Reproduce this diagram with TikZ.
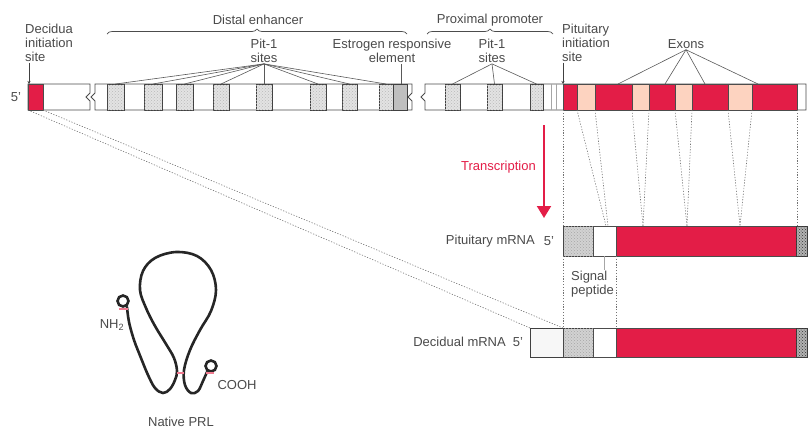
\documentclass[tikz,border=0pt]{standalone}
\usepackage{fontspec}
\setmainfont{Liberation Sans}
\usepackage{tikz}
\usetikzlibrary{arrows.meta, positioning, decorations.pathreplacing, patterns}

\definecolor{prlred}{HTML}{E31D47}
\definecolor{exonpeach}{HTML}{FDD3C0}
\definecolor{txtgray}{HTML}{4A4A4A}
\definecolor{bondpink}{HTML}{F07A90}

\begin{document}
\begin{tikzpicture}[x=1pt, y=-1pt,
    every node/.style={font=\fontsize{13}{13.8}\selectfont, text=txtgray, inner sep=1pt},
    lbl/.style={align=center},
    lbll/.style={align=left, anchor=north west},
    seg/.style={draw=black!70, line width=0.8pt, fill=white},
    pitband/.style={draw=black!75, line width=1pt, fill=gray!22, postaction={pattern=crosshatch dots, pattern color=gray!55}},
    erband/.style={draw=black!75, line width=1pt, fill=gray!50},
    exon/.style={draw=black!70, line width=0.8pt, fill=prlred},
    intron/.style={draw=black!70, line width=0.8pt, fill=exonpeach},
    utr/.style={draw=black!75, line width=0.8pt, fill=gray!35, postaction={pattern=crosshatch dots, pattern color=gray!70}},
    tail/.style={draw=black!75, line width=0.8pt, fill=gray!60, postaction={pattern=crosshatch dots, pattern color=black!80}},
    fanline/.style={black!65, line width=0.6pt},
    mapline/.style={black!55, line width=0.6pt, dash pattern=on 1.2pt off 1.6pt},
    initarrow/.style={-{Stealth[length=3pt, width=3pt]}, black!75, line width=0.6pt},
    txarrow/.style={-{Triangle[length=12pt, width=14pt]}, prlred, line width=2pt},
    regionbrace/.style={decorate, decoration={brace, amplitude=5pt}, black!70, line width=0.7pt},
    chain/.style={black!85, line width=2.6pt, line cap=round},
    ssbond/.style={bondpink, line width=1.2pt}
]
    \useasboundingbox (0,0) rectangle (808,429);

    % Gene: 5' piece with the decidual start
    \draw[seg] (28,84) -- (90,84) -- (90,93) -- (86,97) -- (90,101) -- (90,110) -- (28,110) -- cycle;
    \draw[exon] (28,84) rectangle (43,110);
    \node (five) at (16,97) {5'};

    % Gene: distal enhancer piece
    \draw[seg] (95,84) -- (412,84) -- (412,93) -- (408,97) -- (412,101) -- (412,110)
        -- (95,110) -- (95,101) -- (91,97) -- (95,93) -- cycle;
    \foreach \a/\b [count=\i] in {107/124, 144/162, 176/193, 213/229, 256/272, 310/326, 342/357, 379/393} {
        \draw[pitband] (\a,84) rectangle (\b,110);
        \coordinate (dp\i) at ({(\a+\b)/2},84);
    }
    \draw[erband] (393,84) rectangle (407,110);
    \coordinate (er) at (401,84);

    % Gene: proximal promoter and exons
    \draw[seg] (425,84) -- (806,84) -- (806,110) -- (425,110) -- (425,101) -- (421,97) -- (425,93) -- cycle;
    \foreach \a/\b [count=\i] in {445/460, 487/502, 530/543} {
        \draw[pitband] (\a,84) rectangle (\b,110);
        \coordinate (pp\i) at ({(\a+\b)/2},84);
    }
    \draw[gray!70, line width=0.7pt] (551,84) -- (551,110) (556,84) -- (556,110);
    \foreach \a/\b in {577/595, 632/649, 675/692, 728/752}
        \draw[intron] (\a,84) rectangle (\b,110);
    \foreach \a/\b in {563/577, 595/632, 649/675, 692/728, 752/797}
        \draw[exon] (\a,84) rectangle (\b,110);
    \foreach \x [count=\i] in {618, 665, 705, 758}
        \coordinate (ex\i) at (\x,84);
    \coordinate (dstart) at (29,84);
    \coordinate (pstart) at (563,84);

    % Labels above the gene
    \node[lbl] (distal) at (258,20) {Distal enhancer};
    \draw[regionbrace] (107,34) -- (407,34);
    \node[lbl] (proximal) at (490,20) {Proximal promoter};
    \draw[regionbrace] (427,34) -- (553,34);

    \node[lbl] (dpit) at (264,51) {Pit-1\\sites};
    \foreach \i in {1,...,8}
        \draw[fanline] (dpit.south) -- (dp\i);
    \node[lbl] (estro) at (392,51) {Estrogen responsive\\element};
    \draw[fanline] (estro.south -| er) -- (er);
    \node[lbl] (ppit) at (492,51) {Pit-1\\sites};
    \foreach \i in {1,...,3}
        \draw[fanline] (ppit.south) -- (pp\i);
    \node[lbl] (exons) at (686,44) {Exons};
    \foreach \i in {1,...,4}
        \draw[fanline] (exons.south) -- (ex\i);

    \node[lbll] (decsite) at (24,23) {Decidua\\initiation\\site};
    \draw[initarrow] (dstart |- decsite.south) -- (dstart);
    \node[lbll] (pitsite) at (561,23) {Pituitary\\initiation\\site};
    \draw[initarrow] (pstart |- pitsite.south) -- (pstart);

    % Transcription
    \coordinate (tx1) at (544,125);
    \coordinate (tx2) at (544,218);
    \draw[txarrow] (tx1) -- (tx2);
    \node[text=prlred, anchor=east] (txlbl) at (537,167) {Transcription};

    % Pituitary mRNA
    \draw[utr] (563,226) rectangle (593,256);
    \draw[seg] (593,226) rectangle (616,256);
    \draw[exon] (616,226) rectangle (796,256);
    \draw[tail] (796,226) rectangle (807,256);
    \node[anchor=east] (pitlbl) at (536,241) {Pituitary mRNA};
    \node (pit5) at (549,241) {5'};

    % Decidual mRNA
    \draw[draw=black!75, line width=0.8pt, fill=gray!6] (530,328) rectangle (563,357);
    \draw[utr] (563,328) rectangle (593,357);
    \draw[seg] (593,328) rectangle (616,357);
    \draw[exon] (616,328) rectangle (796,357);
    \draw[tail] (796,328) rectangle (807,357);
    \node[anchor=east] (declbl) at (507,342) {Decidual mRNA};
    \node (dec5) at (518,342) {5'};

    % Splicing of the exons onto the pituitary mRNA
    \foreach \a/\b [count=\i] in {563/563, 577/606, 595/608, 632/643, 649/643, 675/687, 692/687, 728/740, 752/740, 797/797} {
        \coordinate (g\i) at (\a,110);
        \coordinate (m\i) at (\b,226);
        \draw[mapline] (g\i) -- (m\i);
    }
    \coordinate (pb1) at (563,256);
    \coordinate (pb2) at (616,256);
    \coordinate (db1) at (563,328);
    \coordinate (db2) at (616,328);
    \draw[mapline] (pb1) -- (db1);
    \draw[mapline] (pb2) -- (db2);

    % Decidual start onto the decidual mRNA
    \coordinate (dd1) at (28,110);
    \coordinate (dd2) at (43,110);
    \coordinate (dm1) at (530,328);
    \draw[mapline] (dd1) -- (dm1);
    \draw[mapline] (dd2) -- (db1);

    % Signal peptide
    \coordinate (sp) at (604,256);
    \node[lbll] (sigpep) at (570,270) {Signal\\peptide};
    \draw[gray!70, line width=0.8pt] (sp) -- (sp |- sigpep.north);

    % Native PRL
    \draw[chain] plot[smooth, tension=0.6] coordinates {(127,307) (129,322) (134,340) (141,358)
        (148,375) (155,388) (163,393) (170,389) (175,380) (177,371) (174,358) (166,344)
        (155,326) (146,308) (140,290) (143,271) (155,258) (176,252) (197,256) (211,270)
        (216,290) (211,311) (200,330) (190,350) (184,370) (185,385) (191,393) (198,391)
        (203,381) (207,372)};
    \draw[chain] (123,301) circle (5.5);
    \draw[chain] (211,366) circle (5.5);
    \draw[ssbond] (119,309) -- (128,309);
    \draw[ssbond] (177,373) -- (184,373);
    \draw[ssbond] (206,373) -- (214,373);
    \node (nh2) at (112,325) {NH\textsubscript{2}};
    \node (cooh) at (237,385) {COOH};
    \node (nprl) at (181,422) {Native PRL};
\end{tikzpicture}
\end{document}
